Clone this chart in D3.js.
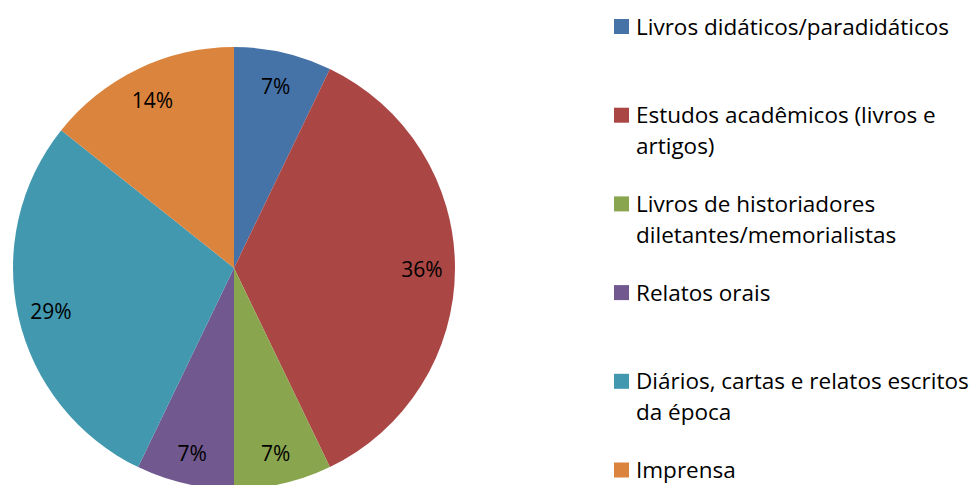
<!DOCTYPE html>
<meta charset="utf-8">
<script src="https://cdn.jsdelivr.net/npm/d3@7"></script>
<style>
body {
  margin: 0;
  background-color: #fff;
}
text {
  font-family: "Open Sans", Lato, sans-serif;
  fill: #000;
}
</style>
<body>
  <div id="pie_chart"></div>
</body>
<script>
var categories = ["Livros didáticos/paradidáticos",
                  "Estudos acadêmicos (livros e artigos)",
                  "Livros de historiadores diletantes/memorialistas",
                  "Relatos orais",
                  "Diários, cartas e relatos escritos da época",
                  "Imprensa"];
// legend lines as they wrap in the picture
var legendLines = [["Livros didáticos/paradidáticos"],
                   ["Estudos acadêmicos (livros e", "artigos)"],
                   ["Livros de historiadores", "diletantes/memorialistas"],
                   ["Relatos orais"],
                   ["Diários, cartas e relatos escritos", "da época"],
                   ["Imprensa"]];
var counts = [1, 5, 1, 1, 4, 2];
var colors = ["#4572A7", "#AA4643", "#89A54E", "#71588F", "#4198AF", "#DB843D"];

var width = 975,
    height = 485,
    cx = 234,
    cy = 268,
    radius = 221;

var svg = d3.select("#pie_chart").append("svg")
            .attr("width", width)
            .attr("height", height);

var data = categories.map(function(c, i) {
  return {name: c, value: counts[i], lines: legendLines[i]};
});
var total = d3.sum(counts);

var color = d3.scaleOrdinal().domain(categories).range(colors);

var pie = d3.pie()
            .sort(null)
            .value(function(d) { return d.value; });

var arc = d3.arc().innerRadius(0).outerRadius(radius);
var labelArc = d3.arc().innerRadius(radius * 0.85).outerRadius(radius * 0.85);

var g = svg.append("g")
           .attr("transform", "translate(" + cx + "," + cy + ")");

var arcs = pie(data);

g.selectAll(".slice")
  .data(arcs)
  .enter().append("path")
  .attr("class", "slice")
  .attr("d", arc)
  .style("fill", function(d) { return color(d.data.name); });

g.selectAll(".label")
  .data(arcs)
  .enter().append("text")
  .attr("class", "label")
  .attr("transform", function(d) { return "translate(" + labelArc.centroid(d) + ")"; })
  .attr("text-anchor", "middle")
  .attr("dy", "0.45em")
  .style("font-size", "21px")
  .text(function(d) { return Math.round(d.data.value / total * 100) + "%"; });

// legend
var ly = d3.scalePoint().domain(categories).range([26.5, 470]);

var legend = svg.selectAll(".legend")
  .data(data)
  .enter().append("g")
  .attr("class", "legend")
  .attr("transform", function(d) { return "translate(614," + ly(d.name) + ")"; });

legend.append("rect")
  .attr("x", 0)
  .attr("y", -7.5)
  .attr("width", 15)
  .attr("height", 15)
  .style("fill", function(d) { return color(d.name); });

legend.append("text")
  .attr("x", 22)
  .attr("y", 8)
  .style("font-size", "22.5px")
  .selectAll("tspan")
  .data(function(d) { return d.lines; })
  .enter().append("tspan")
  .attr("x", 22)
  .attr("dy", function(d, i) { return i === 0 ? 0 : 31; })
  .text(function(d) { return d; });
</script>
